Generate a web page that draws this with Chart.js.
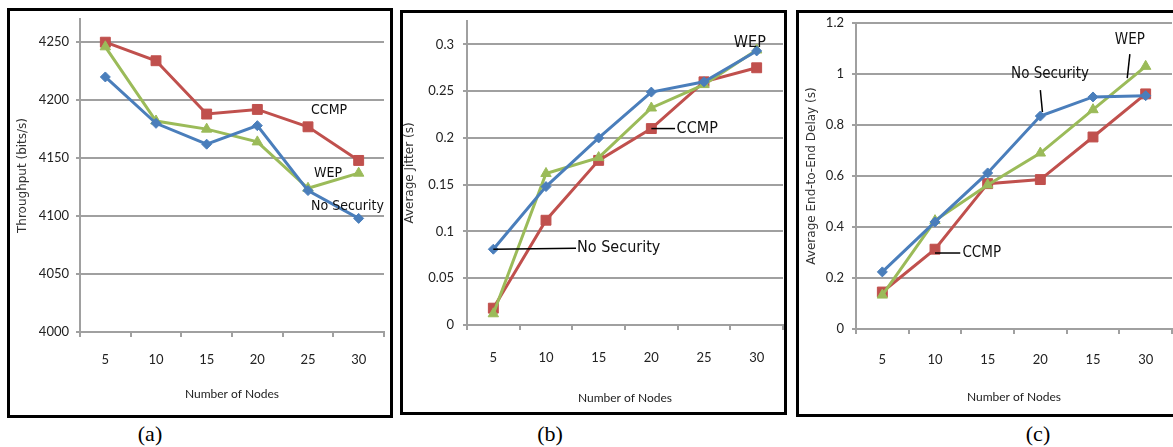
<!DOCTYPE html>
<html>
<head>
<meta charset="utf-8">
<script src="https://cdn.jsdelivr.net/npm/chart.js@4/dist/chart.umd.min.js"></script>
<style>
  body { margin: 0; width: 1173px; height: 447px; background: #fff; overflow: hidden; position: relative; }
  .panel { position: absolute; border: 3px solid #000; overflow: hidden; background: #fff; }
  .panel canvas { position: absolute; left: 0; top: 0; }
  .cap { position: absolute; font: 22px "Liberation Serif", serif; color: #000; transform: translateX(-50%); }
</style>
</head>
<body>
<div class="panel" style="left:7px;top:8px;width:380px;height:404px;"><canvas id="chartA" width="382" height="404" style="width:382px;height:404px"></canvas></div>
<div class="panel" style="left:400px;top:10px;width:381px;height:399px;"><canvas id="chartB" width="388" height="399" style="width:388px;height:399px"></canvas></div>
<div class="panel" style="left:796px;top:10px;width:381px;height:401px;"><canvas id="chartC" width="381" height="401" style="width:381px;height:401px"></canvas></div>
<div class="cap" style="left:150px;top:421px;">(a)</div>
<div class="cap" style="left:550px;top:421px;">(b)</div>
<div class="cap" style="left:1038px;top:421px;">(c)</div>
<script>
// categories (panel c really says "15" where 25 belongs)
const nodesAB = ['5', '10', '15', '20', '25', '30'];
const nodesC = ['5', '10', '15', '20', '15', '30'];

// (a) throughput, bits/s
const throughputNoSec = [4220, 4180, 4162, 4178, 4122, 4098];
const throughputCcmp = [4250, 4234, 4188, 4192, 4177, 4148];
const throughputWep = [4246, 4182, 4175, 4164, 4124, 4137];

// (b) average jitter, s
const jitterNoSec = [0.081, 0.148, 0.200, 0.249, 0.260, 0.293];
const jitterCcmp = [0.018, 0.112, 0.176, 0.210, 0.260, 0.275];
const jitterWep = [0.012, 0.162, 0.179, 0.232, 0.257, 0.294];

// (c) average end-to-end delay, s
const delayNoSec = [0.224, 0.420, 0.612, 0.835, 0.910, 0.915];
const delayCcmp = [0.145, 0.313, 0.570, 0.586, 0.753, 0.922];
const delayWep = [0.133, 0.425, 0.565, 0.690, 0.860, 1.030];

const BLUE = '#4a7ebb', RED = '#c0504d', GREEN = '#9bbb59';
const GRID = '#a0a0a0';
const TICK_FONT = { family: 'Lato, "Open Sans", sans-serif', size: 13 };
const TITLE_FONT = { family: 'Lato, "Open Sans", sans-serif', size: 12 };
const NOTE_FONT = '"Liberation Sans Narrow", "DejaVu Sans Condensed", Roboto, sans-serif';

// text labels + leader lines, placed in data space (category index, value)
const notesPlugin = {
  id: 'notes',
  afterDatasetsDraw(chart, args, opts) {
    const { ctx, scales: { x, y } } = chart;
    ctx.save();
    (opts.items || []).forEach(n => {
      if (n.line) {
        ctx.strokeStyle = '#000';
        ctx.lineWidth = 1.5;
        ctx.beginPath();
        ctx.moveTo(x.getPixelForValue(n.line[0]), y.getPixelForValue(n.line[1]));
        ctx.lineTo(x.getPixelForValue(n.line[2]), y.getPixelForValue(n.line[3]));
        ctx.stroke();
      }
      ctx.font = (opts.size || 14) + 'px ' + NOTE_FONT;
      ctx.fillStyle = '#111';
      ctx.textAlign = n.align || 'left';
      ctx.textBaseline = 'middle';
      ctx.fillText(n.text, x.getPixelForValue(n.x), y.getPixelForValue(n.y));
    });
    ctx.restore();
  }
};

function series(label, data, color, style, radius) {
  return {
    label: label,
    data: data,
    borderColor: color,
    backgroundColor: color,
    borderWidth: 3,
    tension: 0,
    pointStyle: style,
    pointRadius: radius,
    pointBorderWidth: 1,
    pointBackgroundColor: color,
    pointBorderColor: color
  };
}

// plain numbers, no thousands separator, no float noise
const plain = v => String(Math.round(v * 1000) / 1000);

function makeChart(id, cfg) {
  const ctx = document.getElementById(id).getContext('2d');
  return new Chart(ctx, {
    type: 'line',
    data: {
      labels: cfg.labels,
      datasets: [
        series('No Security', cfg.noSec, BLUE, 'rectRot', 5),
        series('WEP', cfg.wep, GREEN, 'triangle', 6),
        series('CCMP', cfg.ccmp, RED, 'rect', 7)
      ]
    },
    plugins: [notesPlugin],
    options: {
      responsive: false,
      animation: false,
      layout: { padding: { top: cfg.padTop, left: 0, right: 0, bottom: 0 } },
      plugins: {
        legend: { display: false },
        tooltip: { enabled: false },
        notes: { items: cfg.notes, size: cfg.noteSize }
      },
      scales: {
        x: {
          type: 'category',
          offset: true,
          grid: { offset: true, drawOnChartArea: false, drawTicks: true, tickLength: 5, color: GRID, lineWidth: 2 },
          border: { display: true, color: GRID, width: 2 },
          ticks: { font: TICK_FONT, color: '#222', padding: cfg.xTickPad, maxRotation: 0, autoSkip: false },
          title: { display: true, text: 'Number of Nodes', font: TITLE_FONT, color: '#222', padding: { top: 0, bottom: cfg.xTitlePad } },
          afterFit: s => { s.height = cfg.xHeight; s.paddingLeft = 0; s.paddingRight = 0; }
        },
        y: {
          min: cfg.min,
          max: cfg.max,
          grid: { color: GRID, lineWidth: 2, tickLength: 4 },
          border: { display: true, color: GRID, width: 2 },
          ticks: {
            stepSize: cfg.step,
            includeBounds: false,
            font: TICK_FONT,
            color: '#222',
            padding: cfg.yTickPad,
            callback: plain
          },
          title: { display: true, text: cfg.yTitle, font: { family: '"DejaVu Sans", sans-serif', size: 12 }, color: '#333', padding: { top: cfg.yTitlePad, bottom: 0 } },
          afterFit: s => { s.width = cfg.yWidth; s.paddingTop = 0; s.paddingBottom = 0; }
        }
      }
    }
  });
}

makeChart('chartA', {
  labels: nodesAB, noSec: throughputNoSec, ccmp: throughputCcmp, wep: throughputWep,
  min: 4000, max: 4270, step: 50,
  yTitle: 'Throughput (bits/s)',
  padTop: 2, xHeight: 83, yWidth: 70, xTickPad: 15, xTitlePad: 14, yTickPad: 7, yTitlePad: 6,
  noteSize: 14,
  notes: [
    { text: 'CCMP', x: 4.06, y: 4191 },
    { text: 'WEP', x: 4.12, y: 4137 },
    { text: 'No Security', x: 4.06, y: 4108 }
  ]
});

makeChart('chartB', {
  labels: nodesAB, noSec: jitterNoSec, ccmp: jitterCcmp, wep: jitterWep,
  min: 0, max: 0.325, step: 0.05,
  yTitle: 'Average Jitter (s)',
  padTop: 0, xHeight: 87, yWidth: 64, xTickPad: 20, xTitlePad: 7, yTickPad: 9, yTitlePad: 0,
  noteSize: 16,
  notes: [
    { text: 'WEP', x: 4.87, y: 0.302, align: 'center' },
    { text: 'CCMP', x: 3.48, y: 0.21, line: [3, 0.21, 3.45, 0.21] },
    { text: 'No Security', x: 1.59, y: 0.083, line: [0, 0.081, 1.57, 0.082] }
  ]
});

makeChart('chartC', {
  labels: nodesC, noSec: delayNoSec, ccmp: delayCcmp, wep: delayWep,
  min: 0, max: 1.2, step: 0.2,
  yTitle: 'Average End-to-End Delay (s)',
  padTop: 10, xHeight: 85, yWidth: 57, xTickPad: 18, xTitlePad: 10, yTickPad: 8, yTitlePad: 6,
  noteSize: 15,
  notes: [
    { text: 'No Security', x: 3.185, y: 1.0, align: 'center', line: [3.0, 0.937, 3.04, 0.851] },
    { text: 'WEP', x: 4.70, y: 1.133, align: 'center', line: [4.70, 1.078, 4.65, 0.984] },
    { text: 'CCMP', x: 1.52, y: 0.298, line: [1.0, 0.298, 1.48, 0.298] }
  ]
});
</script>
</body>
</html>
